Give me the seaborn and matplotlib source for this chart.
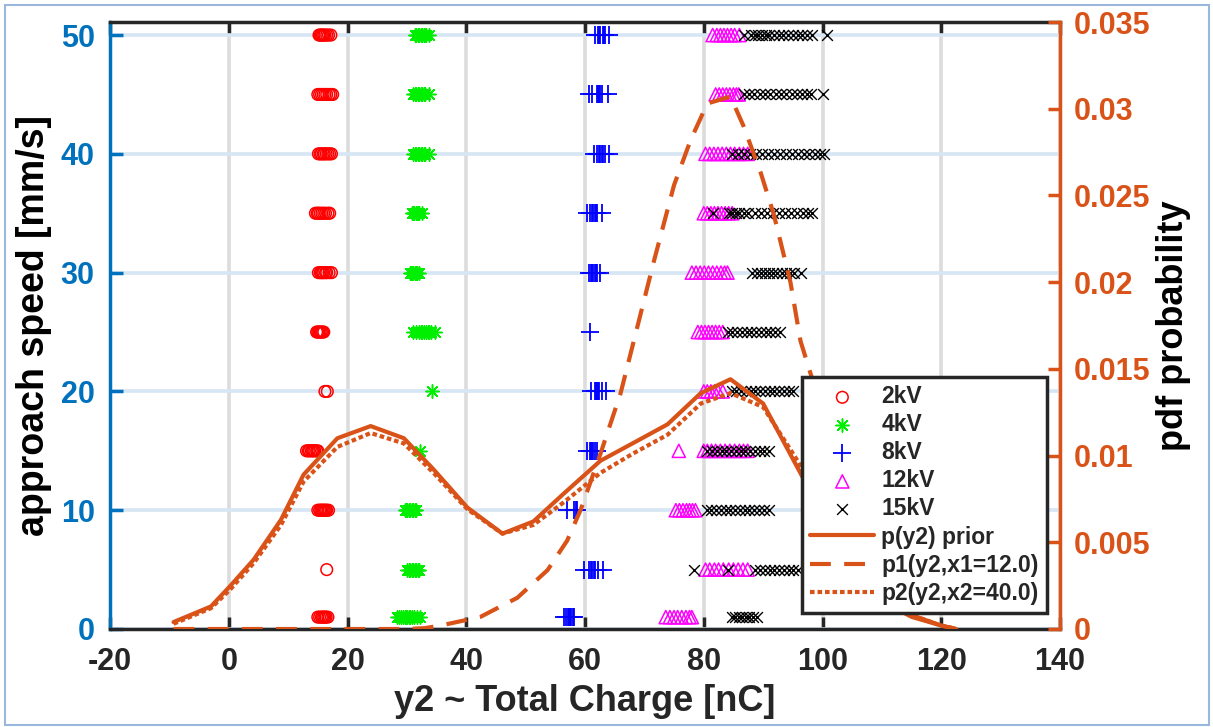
import matplotlib
matplotlib.use("Agg")
import matplotlib.pyplot as plt
from matplotlib.patches import Rectangle
import seaborn as sns

sns.set_style("white")
plt.rcParams['font.family'] = ['Liberation Sans', 'DejaVu Sans']
plt.rcParams['font.weight'] = 'bold'

# ---------------- data ----------------
speeds = [1, 5, 10, 15, 20, 25, 30, 35, 40, 45, 50]

kv2 = [
    [15.0, 15.3, 15.6, 15.8, 16.0, 16.2, 16.4, 16.7],
    [16.5],
    [15.0, 15.3, 15.5, 15.7, 15.9, 16.1, 16.3, 16.5, 16.8],
    [13.1, 13.4, 13.6, 13.9, 14.1, 14.3, 14.5, 14.8, 15.0],
    [16.2, 16.6],
    [14.8, 15.0, 15.2, 15.4, 15.6, 15.8, 16.0],
    [15.1, 15.4, 15.6, 15.8, 16.0, 16.3, 16.5, 16.9, 17.3],
    [14.6, 14.9, 15.1, 15.4, 15.7, 16.0, 16.3, 16.7, 17.0],
    [15.1, 15.4, 15.6, 15.9, 16.1, 16.4, 16.7, 17.0, 17.3],
    [15.0, 15.3, 15.6, 15.9, 16.2, 16.5, 16.9, 17.2, 17.5],
    [15.2, 15.4, 15.6, 15.8, 16.0, 16.2, 16.5, 16.8, 17.2],
]
kv4 = [
    [28.3, 28.7, 29.0, 29.3, 29.6, 29.9, 30.1, 30.4, 30.6, 30.9, 31.2, 31.7, 32.2],
    [30.0, 30.3, 30.5, 30.8, 31.0, 31.3, 31.5, 31.8, 32.0],
    [29.6, 29.9, 30.1, 30.4, 30.6, 30.8, 31.0, 31.3, 31.5],
    [32.2],
    [34.2],
    [31.0, 31.6, 32.0, 32.3, 32.6, 32.9, 33.2, 33.5, 33.8, 34.1, 34.7],
    [30.5, 30.7, 30.9, 31.1, 31.3, 31.5, 31.7, 32.0],
    [30.8, 31.0, 31.2, 31.5, 31.7, 31.9, 32.1, 32.5],
    [31.0, 31.3, 31.5, 31.8, 32.0, 32.3, 32.6, 32.9, 33.1, 33.7],
    [31.0, 31.3, 31.5, 31.8, 32.0, 32.3, 32.6, 32.9, 33.1, 33.7],
    [31.3, 31.6, 31.8, 32.1, 32.3, 32.6, 32.8, 33.1, 33.3, 33.8],
]
kv8 = [
    [56.4, 56.8, 57.1, 57.3, 57.5, 57.7, 57.9, 58.2],
    [59.8, 60.6, 61.0, 61.2, 61.5, 61.7, 62.2, 63.0],
    [57.0, 58.2, 58.4, 58.6],
    [60.3, 60.8, 61.0, 61.2, 61.4, 61.7, 62.1],
    [61.0, 61.6, 61.8, 62.0, 62.2, 62.4, 62.8, 63.5],
    [60.8],
    [60.6, 61.0, 61.2, 61.4, 61.6, 61.8, 62.0, 62.5],
    [60.3, 60.9, 61.2, 61.4, 61.6, 61.8, 62.1, 62.8],
    [61.5, 62.1, 62.4, 62.6, 62.8, 63.0, 63.3, 64.1],
    [60.6, 61.2, 62.0, 62.2, 62.4, 62.6, 62.9, 63.8],
    [61.6, 62.2, 62.4, 62.6, 63.0, 63.2, 63.4, 64.1],
]
kv12 = [
    [73.6, 74.3, 75.0, 75.6, 76.3, 77.0, 77.6, 78.0],
    [80.3, 81.0, 81.8, 82.5, 83.3, 84.2, 85.0, 85.8, 86.6, 87.4],
    [75.3, 75.9, 76.5, 77.1, 77.6, 78.1, 78.6],
    [75.8, 80.0, 80.6, 81.3, 82.0, 82.8, 83.6, 84.4, 85.2, 86.0, 86.7, 87.4],
    [80.0, 80.6, 81.2, 81.8, 82.4, 83.2],
    [79.0, 79.6, 80.2, 80.8, 81.4, 82.0, 82.6, 83.2],
    [78.0, 78.7, 79.4, 80.1, 80.8, 81.5, 82.2, 82.9, 83.5, 84.0],
    [80.0, 80.6, 81.2, 81.8, 82.4, 83.0, 83.6, 84.2, 84.8],
    [80.3, 81.0, 81.7, 82.4, 83.1, 83.8, 84.5, 85.2, 86.0, 86.7, 87.4],
    [82.0, 82.6, 83.2, 83.8, 84.4, 85.0, 85.5, 85.9],
    [81.5, 82.2, 82.8, 83.4, 84.0, 84.6, 85.2, 86.0],
]
kv15 = [
    [84.7, 85.3, 85.9, 86.5, 87.1, 87.7, 88.3, 88.9],
    [78.3, 84.0, 88.7, 89.5, 90.3, 91.1, 91.9, 92.7, 93.5, 94.3, 95.1, 95.8],
    [80.5, 81.3, 82.1, 82.9, 83.7, 84.5, 85.3, 86.1, 86.9, 87.7, 88.5, 89.3, 90.1, 91.0],
    [80.6, 81.4, 82.2, 83.0, 83.8, 84.6, 85.4, 86.2, 87.0, 87.8, 88.6, 89.4, 90.2, 91.0],
    [84.7, 85.5, 86.3, 87.1, 87.9, 88.7, 89.5, 90.3, 91.1, 91.9, 92.7, 93.5, 94.3, 95.0],
    [84.0, 84.8, 85.6, 86.4, 87.2, 88.0, 88.8, 89.6, 90.4, 91.2, 92.0, 92.8],
    [88.2, 88.9, 89.6, 90.3, 91.0, 91.7, 92.4, 93.1, 93.8, 94.5, 95.2, 96.3],
    [81.6, 84.2, 84.8, 85.4, 86.0, 86.7, 87.4, 88.7, 89.7, 90.7, 91.7, 92.7, 93.7,
     94.7, 95.7, 96.7, 97.5, 98.3],
    [84.8, 85.8, 86.8, 87.8, 88.8, 89.8, 90.8, 91.8, 92.8, 93.8, 94.8, 95.8, 96.8,
     97.8, 98.8, 99.6, 100.3],
    [86.7, 87.6, 88.5, 89.4, 90.3, 91.2, 92.1, 93.0, 93.9, 94.8, 95.7, 96.6, 97.4,
     98.0, 100.0],
    [86.7, 88.0, 88.6, 89.2, 89.8, 90.4, 91.0, 91.8, 92.6, 93.4, 94.2, 95.0, 95.8,
     96.6, 97.4, 98.3, 100.8],
]

prior_x = [-9.3, -3.0, 0.3, 4.2, 8.8, 12.6, 18.3, 23.9, 29.5, 34.5, 40.2, 46.1,
           51.3, 56.4, 62.6, 68.0, 73.9, 79.5, 84.5, 90.0, 95.8, 100.0, 105.0,
           110.0, 115.0, 120.0, 122.5]
prior_p = [0.0004, 0.0013, 0.0025, 0.0040, 0.0063, 0.0089, 0.0110, 0.0117, 0.0110,
           0.0092, 0.0070, 0.0055, 0.0062, 0.0078, 0.0097, 0.0107, 0.0118, 0.0136,
           0.0144, 0.0130, 0.0093, 0.0066, 0.0036, 0.0016, 0.0007, 0.0002, 0.0]
p2_p = [0.0003, 0.0012, 0.0023, 0.0038, 0.0060, 0.0085, 0.0105, 0.0113, 0.0107,
        0.0090, 0.0069, 0.0055, 0.0060, 0.0073, 0.0090, 0.0101, 0.0112, 0.0130,
        0.0136, 0.0128, 0.0097, 0.0070, 0.0040, 0.0018, 0.0008, 0.0002, 0.0]
p1_x = [-9.3, 0.0, 10.0, 20.0, 30.0, 33.0, 35.7, 42.4, 48.6, 53.7, 57.0, 59.3,
        62.6, 66.0, 71.6, 75.0, 77.8, 80.6, 84.5, 86.7, 89.6, 91.8, 94.6, 96.3,
        100.0, 105.0, 110.0, 115.0, 120.0, 122.5]
p1_p = [0.0, 0.0, 0.0, 0.0, 0.0, 0.00005, 0.0002, 0.0007, 0.0018, 0.0034, 0.0051,
        0.0069, 0.0101, 0.0136, 0.0212, 0.0256, 0.0282, 0.0303, 0.0307, 0.0290,
        0.0263, 0.0239, 0.0200, 0.0166, 0.0125, 0.0065, 0.0025, 0.0008, 0.0002, 0.0]

x_ticks = [-20, 0, 20, 40, 60, 80, 100, 120, 140]
x_ticklabels = ['-20', '0', '20', '40', '60', '80', '100', '120', '140']
yl_ticks = [0, 10, 20, 30, 40, 50]
yr_ticks = [0, 0.005, 0.01, 0.015, 0.02, 0.025, 0.03, 0.035]
yr_ticklabels = ['0', '0.005', '0.01', '0.015', '0.02', '0.025', '0.03', '0.035']

# ---------------- figure ----------------
BLUE = '#0072BD'
ORANGE = '#D95319'
W, H = 1213, 727
fig = plt.figure(figsize=(W / 100, H / 100), dpi=100)
ax = fig.add_axes([110 / W, (H - 629) / H, 950 / W, 607 / H])
ax2 = ax.twinx()


def flat(groups):
    xs, ys = [], []
    for s, g in zip(speeds, groups):
        xs += g
        ys += [s] * len(g)
    return xs, ys


series = [
    (kv2, '2kV', dict(marker='o', color='#ff0000', edgecolor='#ff0000',
                      facecolor='none', s=70, linewidth=1.1)),
    (kv4, '4kV', dict(marker=(8, 2, 0), color='#00ee00', s=90, linewidth=1.1)),
    (kv8, '8kV', dict(marker='+', color='#0000ff', s=150, linewidth=1.3)),
    (kv12, '12kV', dict(marker='^', color='#ff00ff', edgecolor='#ff00ff',
                        facecolor='none', s=90, linewidth=1.1)),
    (kv15, '15kV', dict(marker='x', color='#000000', s=60, linewidth=1.0)),
]
for groups, lab, kw in series:
    xs, ys = flat(groups)
    sns.scatterplot(x=xs, y=ys, ax=ax, label=lab, zorder=3, **kw)
if ax.get_legend() is not None:
    ax.get_legend().remove()

sns.lineplot(x=prior_x, y=prior_p, ax=ax2, color=ORANGE, linewidth=3.0,
             sort=False, estimator=None, label='p(y2) prior')
sns.lineplot(x=p1_x, y=p1_p, ax=ax2, color=ORANGE, linewidth=3.0,
             linestyle=(0, (5, 3.2)), sort=False, estimator=None,
             label='p1(y2,x1=12.0)')
sns.lineplot(x=prior_x, y=p2_p, ax=ax2, color=ORANGE, linewidth=3.0,
             linestyle=(0, (1.1, 0.7)), sort=False, estimator=None,
             label='p2(y2,x2=40.0)')

# axes limits / ticks
ax.set_xlim(-20, 140)
ax.set_ylim(0, 51.1)
ax2.set_ylim(0, 0.035)
ax.set_xticks(x_ticks)
ax.set_xticklabels(x_ticklabels)
ax.set_yticks(yl_ticks)
ax2.set_yticks(yr_ticks)
ax2.set_yticklabels(yr_ticklabels)

TICKFS = 22
ax.tick_params(axis='x', direction='in', top=True, bottom=True, length=9, width=2.5,
               labelsize=TICKFS, colors='#262626', pad=13)
ax.tick_params(axis='y', direction='in', left=True, right=False, length=9, width=2.5,
               labelsize=TICKFS, colors=BLUE, pad=11)
ax2.tick_params(axis='y', direction='in', right=True, length=9, width=2.5,
                labelsize=TICKFS, colors=ORANGE, pad=10)
for lbl in ax.get_xticklabels() + ax.get_yticklabels() + ax2.get_yticklabels():
    lbl.set_fontweight('bold')

# grid
ax.set_axisbelow(True)
ax.xaxis.grid(True, color='#dcdcdc', linewidth=2.6)
ax.yaxis.grid(True, color='#d6e6f4', linewidth=2.6)

# spines
for sp in ['top', 'bottom']:
    ax.spines[sp].set_color('#262626')
    ax.spines[sp].set_linewidth(2.5)
ax.spines['left'].set_color(BLUE)
ax.spines['left'].set_linewidth(2.5)
ax.spines['right'].set_visible(False)
for sp in ['top', 'bottom', 'left']:
    ax2.spines[sp].set_visible(False)
ax2.spines['right'].set_color(ORANGE)
ax2.spines['right'].set_linewidth(2.5)
ax2.patch.set_visible(False)

ax.set_xlabel('y2 ~ Total Charge [nC]', fontsize=26, fontweight='bold', color='#262626', labelpad=5)
ax.set_ylabel('approach speed [mm/s]', fontsize=27, fontweight='bold', color='#000000', labelpad=6)
ax2.set_ylabel('pdf probability', fontsize=26, fontweight='bold', color='#000000', labelpad=4)

# legend
h1, l1 = ax.get_legend_handles_labels()
h2, l2 = ax2.get_legend_handles_labels()
leg = ax2.legend(h1 + h2, l1 + l2, loc='lower right', bbox_to_anchor=(0.986, 0.027),
                 prop={'weight': 'bold', 'size': 16.5}, frameon=True, fancybox=False,
                 framealpha=1, edgecolor='#262626', labelspacing=0.22,
                 handlelength=2.8, handletextpad=0.3, borderpad=0.35, borderaxespad=0)
leg.get_frame().set_linewidth(2.5)
leg.set_zorder(10)

fig.patches.append(Rectangle((5 / W, 2 / H), 1204 / W, 720 / H, transform=fig.transFigure,
                             fill=False, edgecolor='#9ab8dd', linewidth=1.5))

fig.savefig('out.png', dpi=100)
